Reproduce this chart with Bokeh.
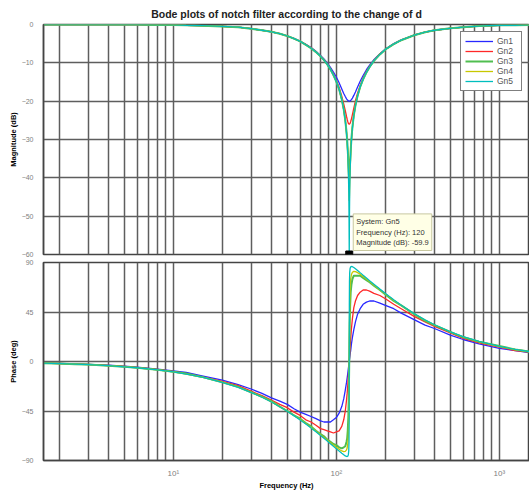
from bokeh.plotting import figure
from bokeh.models import (FixedTicker, Range1d, Label, Legend, LegendItem,
                          CustomJSTickFormatter)
from bokeh.layouts import column
from bokeh.embed import file_html
from bokeh.resources import INLINE

# ---- data (frequency in Hz) ----
freq = [1.6, 2, 2.5, 3, 4, 5, 6, 8, 10, 12, 15, 20, 25, 30, 35, 40, 45, 50, 55, 60,
        65, 70, 75, 80, 84, 88, 92, 96, 100, 104, 108, 111, 113.5, 115.5, 116.5,
        117.5, 118.5, 119.2, 119.6, 119.85, 120, 120.15, 120.4, 120.8, 121.5, 122.5,
        123.8, 125.5, 128, 131, 135, 140, 146, 153, 160, 170, 185, 200, 225, 250,
        300, 350, 400, 500, 600, 750, 1000, 1250, 1530]

names = ["Gn1", "Gn2", "Gn3", "Gn4", "Gn5"]

mag_gn1 = [0, 0, 0, 0, 0, 0, 0, -0.1, -0.1, -0.2, -0.3, -0.5, -0.7, -1.1, -1.5, -1.9, -2.4,
           -3, -3.6, -4.4, -5.2, -6, -7, -8.1, -9, -10, -11.2, -12.4, -13.7, -15.2, -16.8,
           -18, -18.8, -19.4, -19.6, -19.8, -19.9, -20, -20, -20, -20, -20, -20, -20, -19.9,
           -19.8, -19.6, -19.2, -18.5, -17.6, -16.3, -14.8, -13.3, -11.8, -10.6, -9.2, -7.6,
           -6.4, -5, -4, -2.8, -2, -1.5, -1, -0.7, -0.4, -0.2, -0.2, -0.1]
mag_gn2 = [0, 0, 0, 0, 0, 0, 0, -0.1, -0.1, -0.2, -0.3, -0.5, -0.7, -1.1, -1.5, -1.9, -2.4,
           -3, -3.7, -4.4, -5.2, -6.1, -7.1, -8.2, -9.2, -10.3, -11.6, -13, -14.6, -16.4,
           -18.7, -20.7, -22.5, -24, -24.7, -25.3, -25.8, -25.9, -26, -26, -26, -26, -26,
           -25.9, -25.8, -25.3, -24.6, -23.5, -21.8, -19.9, -17.9, -15.9, -14, -12.3, -10.9,
           -9.4, -7.7, -6.5, -5.1, -4.1, -2.8, -2, -1.5, -1, -0.7, -0.4, -0.2, -0.2, -0.1]
mag_gn3 = [0, 0, 0, 0, 0, 0, 0, -0.1, -0.1, -0.2, -0.3, -0.5, -0.7, -1.1, -1.5, -1.9, -2.4,
           -3, -3.7, -4.4, -5.3, -6.2, -7.2, -8.3, -9.3, -10.4, -11.7, -13.2, -14.9, -16.9,
           -19.5, -22.1, -25, -28.1, -30.1, -32.7, -35.9, -38.4, -39.5, -39.9, -40, -39.9,
           -39.5, -38.4, -35.9, -32.8, -29.7, -26.8, -23.7, -21.1, -18.6, -16.3, -14.3, -12.5,
           -11.1, -9.5, -7.8, -6.5, -5.1, -4.1, -2.8, -2, -1.5, -1, -0.7, -0.4, -0.2, -0.2, -0.1]
mag_gn4 = [0, 0, 0, 0, 0, 0, 0, -0.1, -0.1, -0.2, -0.3, -0.5, -0.7, -1.1, -1.5, -1.9, -2.4,
           -3, -3.7, -4.4, -5.3, -6.2, -7.2, -8.3, -9.3, -10.4, -11.7, -13.2, -14.9, -16.9,
           -19.6, -22.2, -25.1, -28.3, -30.5, -33.3, -37.4, -41.6, -44.4, -45.8, -46, -45.8,
           -44.4, -41.6, -37.5, -33.5, -30, -26.9, -23.8, -21.1, -18.6, -16.3, -14.3, -12.5,
           -11.1, -9.5, -7.8, -6.5, -5.1, -4.1, -2.8, -2, -1.5, -1, -0.7, -0.4, -0.2, -0.2, -0.1]
mag_gn5 = [0, 0, 0, 0, 0, 0, 0, -0.1, -0.1, -0.2, -0.3, -0.5, -0.7, -1.1, -1.5, -1.9, -2.4,
           -3, -3.7, -4.4, -5.3, -6.2, -7.2, -8.3, -9.3, -10.4, -11.7, -13.2, -14.9, -16.9,
           -19.6, -22.2, -25.1, -28.4, -30.6, -33.5, -38, -43.4, -49.2, -55.9, -60, -55.9,
           -49.2, -43.5, -38.1, -33.7, -30.1, -27, -23.8, -21.2, -18.6, -16.3, -14.3, -12.5,
           -11.1, -9.5, -7.8, -6.5, -5.1, -4.1, -2.8, -2, -1.5, -1, -0.7, -0.4, -0.2, -0.2, -0.1]

ph_gn1 = [-1.4, -1.7, -2.1, -2.6, -3.4, -4.3, -5.2, -6.9, -8.6, -10, -13, -17, -21, -25, -29,
          -33, -36, -39, -43, -46, -48, -50, -52, -54, -55, -55, -55, -53, -51, -47, -41, -34,
          -26, -19, -15, -11, -6.4, -3.4, -1.7, -0.6, 0, 0.6, 1.7, 3.4, 6.4, 10, 16, 22, 29,
          36, 43, 48, 52, 54, 55, 55, 53, 51, 48, 44, 38, 33, 30, 24, 20, 16, 12, 9.9, 8.1]
ph_gn2 = [-1.5, -1.8, -2.3, -2.7, -3.6, -4.5, -5.4, -7.2, -9, -11, -14, -18, -22, -27, -31,
          -35, -39, -42, -46, -49, -53, -55, -58, -61, -62, -63, -64, -65, -64, -63, -59, -53,
          -45, -35, -29, -22, -13, -7.2, -3.6, -1.4, 0, 1.4, 3.6, 7.2, 13, 21, 30, 39, 49, 55,
          60, 63, 65, 65, 64, 62, 60, 57, 52, 48, 41, 36, 32, 26, 21, 17, 13, 10, 8.5]
ph_gn3 = [-1.5, -1.9, -2.4, -2.8, -3.8, -4.7, -5.7, -7.6, -9.4, -11, -14, -19, -23, -28, -32,
          -36, -41, -45, -49, -52, -56, -59, -63, -66, -68, -71, -73, -75, -76, -78, -79, -78,
          -77, -73, -70, -63, -51, -33, -18, -7.1, 0, 7, 18, 33, 50, 63, 70, 75, 78, 78, 78,
          78, 76, 74, 72, 69, 65, 61, 55, 51, 43, 37, 33, 27, 22, 18, 14, 11, 8.9]
ph_gn4 = [-1.5, -1.9, -2.4, -2.8, -3.8, -4.7, -5.7, -7.6, -9.5, -11.4, -14.2, -18.8, -23.4,
          -27.9, -32.3, -36.7, -40.9, -45, -48.9, -52.7, -56.4, -60, -63.4, -66.7, -69.2,
          -71.6, -73.9, -76, -78, -79.8, -81.3, -81.9, -81.7, -80.4, -78.7, -75.4, -67.6,
          -52.8, -33.5, -14, 0, 14, 33.5, 52.7, 67.4, 75.2, 79.1, 81.1, 81.9, 81.7, 80.8, 79.4,
          77.4, 75, 72.8, 69.6, 65.3, 61.4, 55.7, 50.9, 43.3, 37.6, 33.2, 26.8, 22.5, 18.1,
          13.6, 10.9, 8.9]
ph_gn5 = [-1.5, -1.9, -2.4, -2.9, -3.8, -4.8, -5.7, -7.6, -9.5, -11.4, -14.2, -18.9, -23.5,
          -28, -32.5, -36.8, -41.1, -45.2, -49.2, -53.1, -56.8, -60.4, -63.9, -67.2, -69.8,
          -72.3, -74.7, -77.1, -79.3, -81.4, -83.4, -84.8, -85.8, -86.3, -86.4, -86.1, -84.7,
          -81.1, -73.1, -51.3, 0, 51.3, 73.1, 81.1, 84.7, 86, 86.4, 86.2, 85.4, 84.3, 82.8,
          80.8, 78.5, 76, 73.5, 70.3, 65.8, 61.8, 56.1, 51.2, 43.5, 37.8, 33.4, 27, 22.6, 18.2,
          13.7, 11, 9]

mag_ticks = [-60, -50, -40, -30, -20, -10, 0]
phase_ticks = [-90, -45, 0, 45, 90]
freq_ticks = [10, 100, 1000]
freq_minor = [2, 3, 4, 5, 6, 7, 8, 9, 20, 30, 40, 50, 60, 70, 80, 90,
              200, 300, 400, 500, 600, 700, 800, 900]
tip_freq, tip_mag = 120, -59.9

mags = [mag_gn1, mag_gn2, mag_gn3, mag_gn4, mag_gn5]
phs = [ph_gn1, ph_gn2, ph_gn3, ph_gn4, ph_gn5]

# ---- styling ----
colors = ["#2828ff", "#ff2828", "#50be50", "#c8c800", "#00bebe"]
widths = [1.3, 1.3, 2.0, 1.3, 1.3]
FONT = "Liberation Sans"
GRID = "#5e5e5e"


def style(p, yt):
    p.xaxis.ticker = FixedTicker(ticks=freq_ticks, minor_ticks=freq_minor)
    p.yaxis.ticker = FixedTicker(ticks=yt)
    for g in (p.xgrid, p.ygrid):
        g.grid_line_color = GRID
        g.grid_line_width = 1.5
    p.xgrid.minor_grid_line_color = GRID
    p.xgrid.minor_grid_line_width = 1.5
    p.outline_line_color = "#444444"
    p.outline_line_width = 1.5
    for ax in (p.xaxis, p.yaxis):
        ax.major_tick_line_color = None
        ax.minor_tick_line_color = None
        ax.axis_line_color = "#444444"
        ax.axis_line_width = 1.5
        ax.major_label_text_font = FONT
        ax.major_label_text_font_size = "7px"
        ax.major_label_text_color = "#808080"
        ax.axis_label_text_font = FONT
        ax.axis_label_text_font_size = "7.5px"
        ax.axis_label_text_font_style = "bold"
        ax.axis_label_text_color = "#000000"
    p.yaxis.major_label_standoff = 4
    p.yaxis.axis_label_standoff = 1
    p.background_fill_color = "#ffffff"
    p.border_fill_color = "#ffffff"


p1 = figure(width=529, height=258, x_axis_type="log", x_range=Range1d(1.6, 1530),
            y_range=Range1d(-60, 0), output_backend="svg", toolbar_location=None,
            min_border_left=43, min_border_right=0, min_border_top=22, min_border_bottom=4)
style(p1, mag_ticks)
p1.xaxis.visible = False
p1.yaxis.axis_label = "Magnitude (dB)"
p1.title.text = "Bode plots of notch filter according to the change of d"
p1.title.align = "center"
p1.title.text_font = FONT
p1.title.text_font_size = "10.5px"
p1.title.text_font_style = "bold"
p1.title.text_color = "#222222"

items = []
for n, m, c, w in zip(names, mags, colors, widths):
    r = p1.line(freq, m, line_color=c, line_width=w)
    items.append(LegendItem(label=n, renderers=[r]))
leg = Legend(items=items, location="top_right", margin=7, padding=4, spacing=0,
             label_text_font=FONT, label_text_font_size="8.5px", label_text_color="#555555",
             label_height=10, glyph_height=10, glyph_width=28, label_standoff=4,
             border_line_color="#000000", border_line_width=1.5,
             background_fill_color="#ffffff", background_fill_alpha=1)
p1.add_layout(leg)
p1.scatter([tip_freq], [-60], marker="square", size=7, color="#000000")
tip = Label(x=tip_freq, y=-60, x_offset=4, y_offset=4,
            text="System: Gn5\nFrequency (Hz): %d\nMagnitude (dB): %.1f" % (tip_freq, tip_mag),
            text_font=FONT, text_font_size="7.5px", text_color="#333333",
            background_fill_color="#ffffe6", border_line_color="#c8c8a0", padding=3)
p1.add_layout(tip)

p2 = figure(width=529, height=234, x_axis_type="log", x_range=p1.x_range,
            y_range=Range1d(-90, 90), output_backend="svg", toolbar_location=None,
            min_border_left=43, min_border_right=0, min_border_top=4, min_border_bottom=20)
style(p2, phase_ticks)
p2.yaxis.axis_label = "Phase (deg)"
p2.xaxis.axis_label = "Frequency (Hz)"
p2.xaxis.axis_label_standoff = 0
p2.xaxis.major_label_standoff = 2
p2.xaxis.major_label_text_font_size = "8px"
p2.xaxis.formatter = CustomJSTickFormatter(
    code='var m={10:"10\\u00b9",100:"10\\u00b2",1000:"10\\u00b3"}; return m[tick]||"";')
for n, ph, c, w in zip(names, phs, colors, widths):
    p2.line(freq, ph, line_color=c, line_width=w)

lay = column(p1, p2, spacing=0)
open("out.html", "w").write(file_html(lay, INLINE))
